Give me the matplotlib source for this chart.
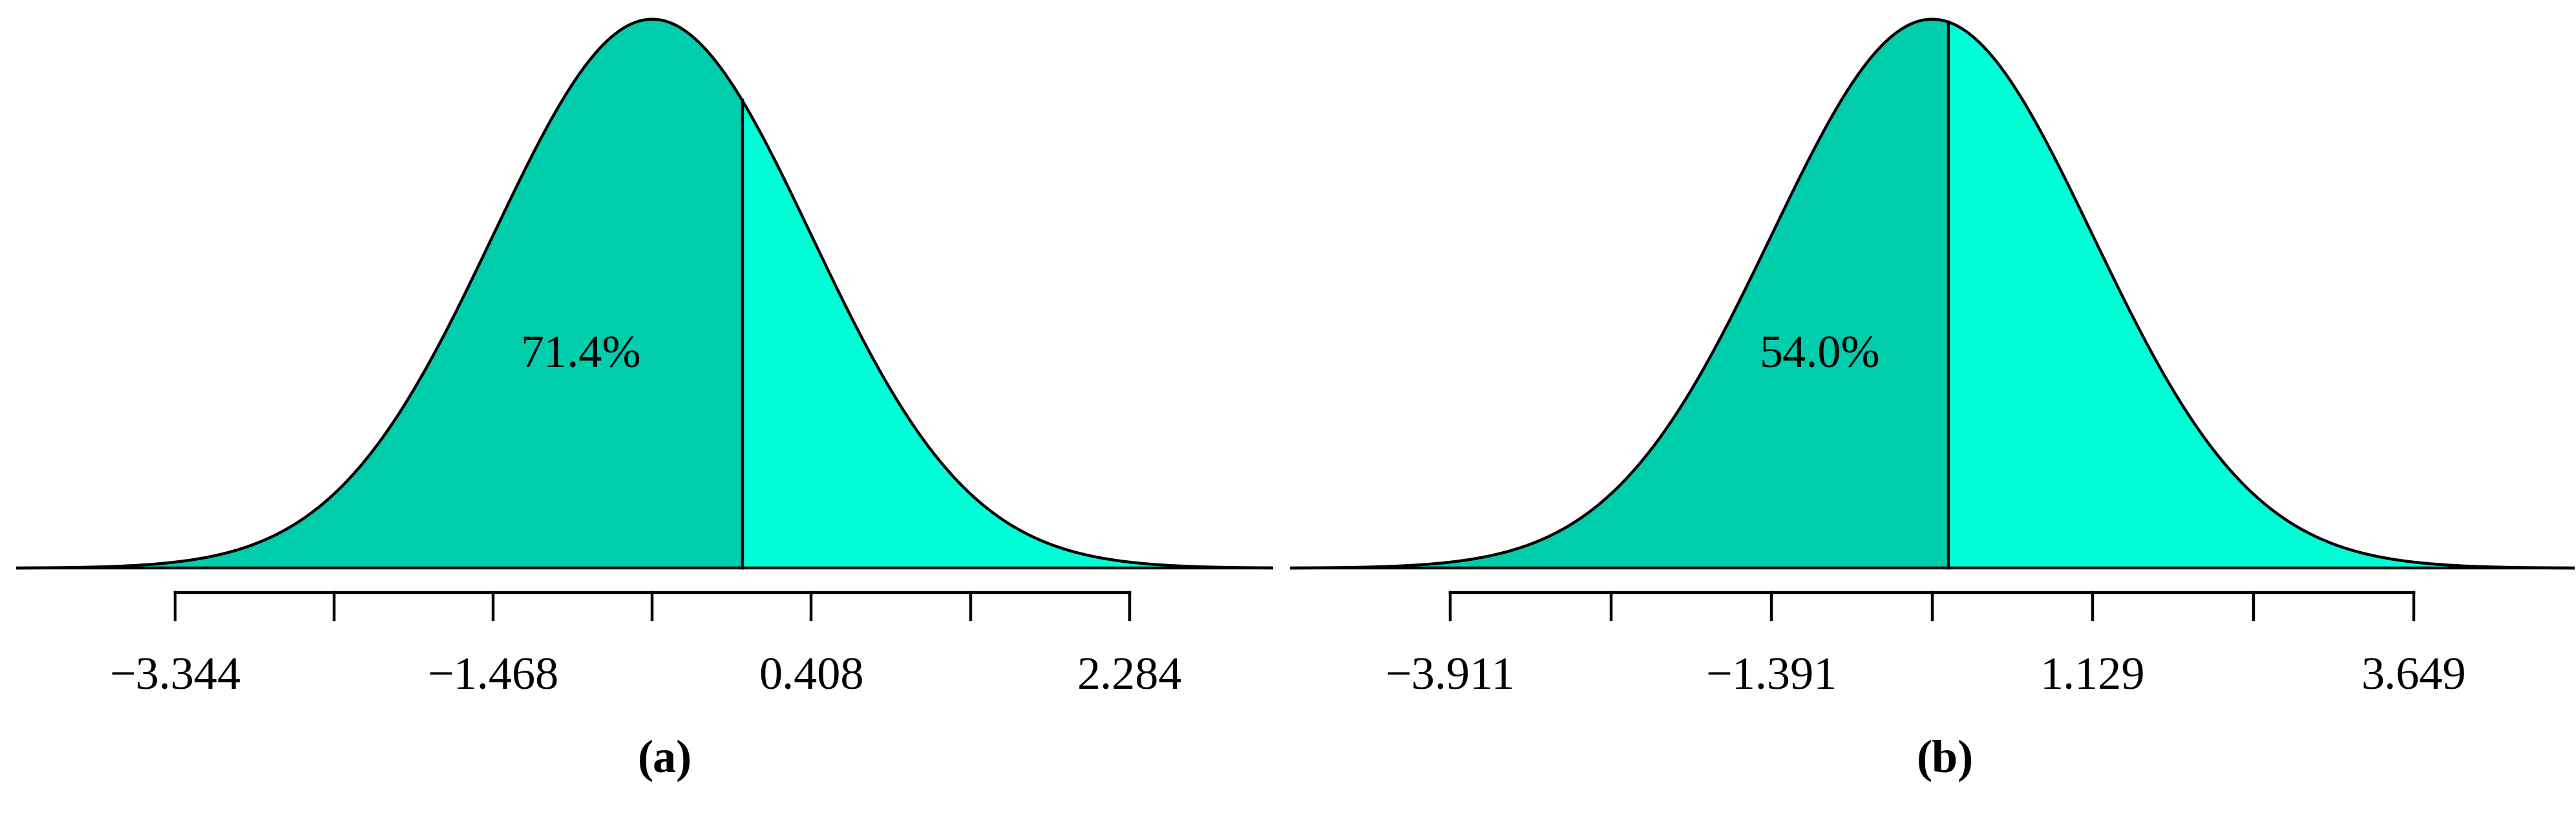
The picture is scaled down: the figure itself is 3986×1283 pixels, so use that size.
import numpy as np
import matplotlib.pyplot as plt

plt.rcParams['font.family'] = ['Liberation Serif', 'DejaVu Serif']

# panel parameters
means = [-0.530, -0.131]
sds = [0.938, 1.260]
cuts = [0.0035, 0.006]
shares = ["71.4%", "54.0%"]
tick_labels = [["\u22123.344", "\u22121.468", "0.408", "2.284"],
               ["\u22123.911", "\u22121.391", "1.129", "3.649"]]
panel_tags = ["(a)", "(b)"]
xlims = [(-4.28, 3.13), (-5.17, 4.91)]
text_x = [-0.95, -1.01]
axes_pos = [(0.00627, 0.4878), (0.5006, 0.4986)]

dark = "#00CDAC"
light = "#00FFD6"

fig = plt.figure(figsize=(39.87, 12.83), dpi=100)

for k in range(2):
    ax = fig.add_axes([axes_pos[k][0], 0, axes_pos[k][1], 1])
    mu, sd, cut = means[k], sds[k], cuts[k]
    if k == 0:
        cut = mu + 0.566 * sd
    else:
        cut = mu + 0.100 * sd
    x = np.linspace(xlims[k][0], xlims[k][1], 2000)
    y = np.exp(-0.5 * ((x - mu) / sd) ** 2)
    ax.fill_between(x, 0, y, where=x <= cut, color=dark, lw=0)
    ax.fill_between(x, 0, y, where=x >= cut, color=light, lw=0)
    ax.plot(x, y, color="black", lw=3.2)
    ax.plot(xlims[k], [0, 0], color="black", lw=3.2)
    yc = np.exp(-0.5 * ((cut - mu) / sd) ** 2)
    ax.plot([cut, cut], [0, yc], color="black", lw=3.2)

    ticks = mu + sd * np.arange(-3, 4)
    ax.plot([ticks[0], ticks[-1]], [-0.044, -0.044], color="black", lw=3.2)
    for t in ticks:
        ax.plot([t, t], [-0.044, -0.094], color="black", lw=3.2)
    for t, lab in zip(ticks[::2], tick_labels[k]):
        ax.text(t, -0.20, lab, ha="center", va="center", fontsize=52)
    ax.text(text_x[k], 0.386, shares[k], ha="center", va="center", fontsize=52)
    ax.text(mu + 0.08 * sd, -0.35, panel_tags[k], ha="center", va="center",
            fontsize=52, fontweight="bold")

    ax.set_xlim(*xlims[k])
    ax.set_ylim(-0.475, 1.035)
    ax.axis("off")

fig.savefig("out.png", dpi=100)
